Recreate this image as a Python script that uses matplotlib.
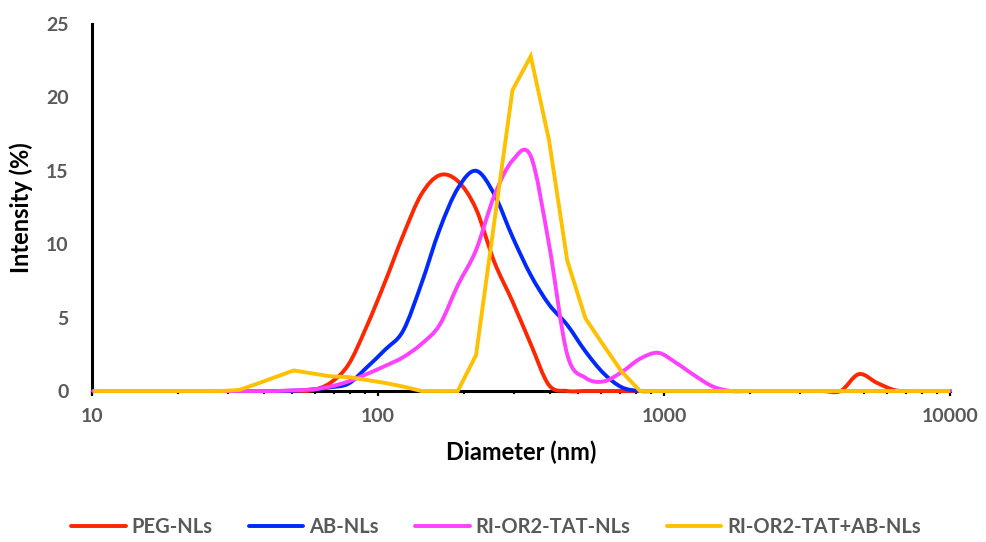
import numpy as np
import matplotlib
matplotlib.use("Agg")
import matplotlib.pyplot as plt
from matplotlib.path import Path
from matplotlib.patches import PathPatch
from matplotlib.lines import Line2D
from matplotlib.ticker import LogLocator, NullFormatter, FixedLocator, FixedFormatter

plt.rcParams["font.family"] = ["Lato", "DejaVu Sans"]

# DLS size bins (nm)
sizes = [10.1, 11.7, 13.54, 15.69, 18.17, 21.04, 24.36, 28.21,
         32.67, 37.84, 43.82, 50.75, 58.77, 68.06, 78.82, 91.28,
         105.7, 122.4, 141.8, 164.2, 190.1, 220.2, 255.0, 295.3,
         342.0, 396.1, 458.7, 531.2, 615.1, 712.4, 825.0, 955.4,
         1106, 1281, 1484, 1718, 1990, 2305, 2669, 3091,
         3580, 4145, 4801, 5560, 6439, 7456, 8635, 10000]

# intensity (%)
peg_nls = [0, 0, 0, 0, 0, 0, 0, 0,
           0, 0, 0, 0, 0.05, 0.55, 1.8, 4.4,
           7.4, 10.6, 13.4, 14.7, 14.3, 12.4, 8.8, 6.1,
           3.2, 0.4, 0, 0, 0, 0, 0, 0,
           0, 0, 0, 0, 0, 0, 0, 0,
           0, 0, 1.15, 0.55, 0.05, 0, 0, 0]

ab_nls = [0, 0, 0, 0, 0, 0, 0, 0,
          0, 0, 0, 0.02, 0.1, 0.25, 0.5, 1.6,
          2.8, 4.1, 7.3, 11.0, 13.8, 15.0, 13.4, 10.5,
          7.9, 5.9, 4.5, 2.7, 1.2, 0.25, 0, 0,
          0, 0, 0, 0, 0, 0, 0, 0,
          0, 0, 0, 0, 0, 0, 0, 0]

tat_nls = [0, 0, 0, 0, 0, 0, 0, 0,
           0, 0, 0, 0.05, 0.1, 0.3, 0.65, 1.15,
           1.7, 2.3, 3.2, 4.5, 7.2, 9.6, 13.3, 15.7,
           16.0, 10.0, 2.5, 0.9, 0.65, 1.3, 2.2, 2.6,
           1.9, 1.05, 0.3, 0, 0, 0, 0, 0,
           0, 0, 0, 0, 0, 0, 0, 0]

tat_ab_nls = [0, 0, 0, 0, 0, 0, 0, 0,
              0.07, 0.5, 0.95, 1.4, 1.2, 1.0, 0.95, 0.75,
              0.55, 0.3, 0, 0, 0, 2.45, 11.5, 20.5,
              22.8, 17.1, 8.9, 4.95, 3.1, 1.3, 0, 0,
              0, 0, 0, 0, 0, 0, 0, 0,
              0, 0, 0, 0, 0, 0, 0, 0]

labels = ["PEG-NLs", "AB-NLs", "RI-OR2-TAT-NLs", "RI-OR2-TAT+AB-NLs"]
colors = ["#FF2600", "#0029FF", "#FF40FF", "#FFC000"]

x_ticks = [10, 100, 1000, 10000]
y_ticks = [0, 5, 10, 15, 20, 25]

GREY = "#595959"
LW = 2.8


def smooth_path(xs, ys):
    # excel-style smoothed line: cubic bezier segments in (log x, y)
    u = np.log10(np.asarray(xs, dtype=float))
    y = np.asarray(ys, dtype=float)
    n = len(u)
    verts = [(xs[0], ys[0])]
    codes = [Path.MOVETO]
    for i in range(n - 1):
        i0 = max(i - 1, 0)
        i3 = min(i + 2, n - 1)
        c1u = u[i] + (u[i + 1] - u[i0]) / 6
        c1y = y[i] + (y[i + 1] - y[i0]) / 6
        c2u = u[i + 1] - (u[i3] - u[i]) / 6
        c2y = y[i + 1] - (y[i3] - y[i]) / 6
        verts += [(10 ** c1u, c1y), (10 ** c2u, c2y), (xs[i + 1], ys[i + 1])]
        codes += [Path.CURVE4] * 3
    return Path(verts, codes)


fig = plt.figure(figsize=(9.86, 5.42), dpi=100)
ax = fig.add_axes([92 / 986, 1 - 391 / 542, (950 - 92) / 986, (391 - 24) / 542])

ax.set_xscale("log")
ax.set_xlim(10, 10000)
ax.set_ylim(0, 25)

for data, col in zip([peg_nls, ab_nls, tat_nls], colors[:3]):
    patch = PathPatch(smooth_path(sizes, data), facecolor="none", edgecolor=col,
                      lw=LW, capstyle="round", joinstyle="round", zorder=3, clip_on=False)
    ax.add_patch(patch)

ax.plot(sizes, tat_ab_nls, color=colors[3], lw=LW, solid_joinstyle="miter",
        solid_capstyle="butt", zorder=3, clip_on=False)

for s in ["top", "right"]:
    ax.spines[s].set_visible(False)
for s in ["left", "bottom"]:
    ax.spines[s].set_linewidth(2.2)
    ax.spines[s].set_color("black")
    ax.spines[s].set_zorder(2.5)

ax.xaxis.set_major_locator(FixedLocator(x_ticks))
ax.xaxis.set_major_formatter(FixedFormatter([str(v) for v in x_ticks]))
ax.xaxis.set_minor_locator(LogLocator(base=10, subs=np.arange(2, 10)))
ax.xaxis.set_minor_formatter(NullFormatter())
ax.set_yticks(y_ticks)

ax.tick_params(axis="x", which="major", direction="out", length=3.6, width=1.6,
               colors="black", labelcolor=GREY, labelsize=14, pad=9)
ax.tick_params(axis="x", which="minor", direction="out", length=2.2, width=1.5, color="black")
ax.tick_params(axis="y", which="both", length=0, labelcolor=GREY, labelsize=14, pad=17)
for lab in ax.get_xticklabels() + ax.get_yticklabels():
    lab.set_fontweight("bold")

ax.set_xlabel("Diameter (nm)", fontsize=17, fontweight="bold", color="black", labelpad=11)
ax.set_ylabel("Intensity (%)", fontsize=17, fontweight="bold", color="black", labelpad=9)

handles = [Line2D([0], [0], color=c, lw=LW, solid_capstyle="round") for c in colors]
fig.legend(handles, labels, loc="center", bbox_to_anchor=(496 / 986, 1 - 527 / 542),
           ncol=4, frameon=False, handlelength=2.7, handletextpad=0.3, columnspacing=1.8,
           prop={"weight": "bold", "size": 14.5}, labelcolor=GREY)

fig.savefig("out.png", dpi=100)
